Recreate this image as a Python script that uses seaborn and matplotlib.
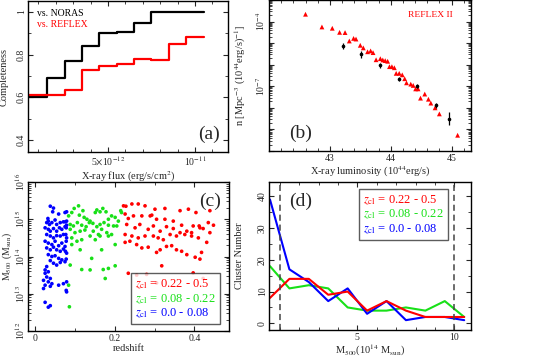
import numpy as np
import pandas as pd
import matplotlib
matplotlib.use("Agg")
import matplotlib.pyplot as plt
from matplotlib.ticker import MultipleLocator, FixedLocator, FixedFormatter, LogLocator, NullFormatter
from matplotlib.lines import Line2D
import seaborn as sns

# ---- (a) completeness vs X-ray flux (flux in 1e-12 erg/s/cm^2) ----
flux_edges = [0.0, 1.5, 2.5, 3.5, 4.5, 5.5, 6.5, 7.5, 8.5, 9.5, 10.5]
compl_noras = [0.603, 0.689, 0.771, 0.838, 0.900, 0.906, 0.945, 1.0, 1.0, 1.0]
compl_reflex = [0.611, 0.611, 0.635, 0.729, 0.746, 0.754, 0.780, 0.776, 0.851, 0.881]

# ---- (b) luminosity function ----
reflex_logL = [42.60, 42.87, 43.04, 43.16, 43.25, 43.32, 43.39, 43.43, 43.50, 43.55, 43.62, 43.67,
               43.71, 43.76, 43.83, 43.87, 43.91, 43.95, 43.98, 44.02, 44.06, 44.09, 44.14, 44.19,
               44.23, 44.26, 44.33, 44.37, 44.41, 44.45, 44.49, 44.56, 44.62, 44.66, 44.73, 44.80, 45.10]
reflex_logn = [-3.66, -4.25, -4.31, -4.50, -4.51, -4.90, -4.78, -4.81, -5.10, -5.22, -5.40, -5.36,
               -5.44, -5.77, -5.72, -5.78, -5.81, -5.84, -6.09, -6.09, -6.14, -6.40, -6.40, -6.47,
               -6.65, -6.84, -6.90, -6.96, -7.12, -7.12, -7.55, -7.36, -7.60, -7.78, -8.00, -8.28, -9.27]
ours_logL = [43.22, 43.51, 43.82, 44.13, 44.43, 44.74, 44.96]
ours_logn = [-5.13, -5.52, -6.02, -6.65, -6.99, -7.89, -8.51]
ours_err = [0.15, 0.15, 0.12, 0.10, 0.10, 0.12, 0.30]

# ---- (c) M500 vs redshift ----
z_low = [0.038, 0.046, 0.044, 0.059, 0.075, 0.079, 0.032, 0.033, 0.029, 0.036, 0.042, 0.050, 0.054,
         0.063, 0.071, 0.079, 0.076, 0.025, 0.033, 0.038, 0.046, 0.054, 0.061, 0.067, 0.075, 0.078,
         0.079, 0.029, 0.038, 0.046, 0.054, 0.063, 0.071, 0.079, 0.077, 0.025, 0.033, 0.042, 0.050,
         0.059, 0.067, 0.075, 0.078, 0.029, 0.038, 0.046, 0.054, 0.063, 0.071, 0.079, 0.076, 0.033,
         0.042, 0.050, 0.059, 0.067, 0.075, 0.078, 0.038, 0.046, 0.054, 0.063, 0.029, 0.025, 0.033,
         0.025, 0.029, 0.038, 0.021, 0.033, 0.042, 0.025, 0.038, 0.021, 0.059, 0.071, 0.079, 0.078,
         0.025, 0.033, 0.038, 0.079]
logm_low = [15.35, 15.30, 15.20, 15.14, 15.18, 15.20, 15.02, 14.95, 14.91, 14.86, 14.91, 14.98, 14.86,
            14.91, 14.93, 14.95, 14.93, 14.77, 14.73, 14.68, 14.75, 14.68, 14.77, 14.73, 14.80, 14.77,
            14.84, 14.59, 14.55, 14.50, 14.56, 14.55, 14.59, 14.50, 14.59, 14.41, 14.36, 14.32, 14.41,
            14.29, 14.36, 14.27, 14.41, 14.23, 14.18, 14.25, 14.18, 14.14, 14.20, 14.09, 14.14, 14.05,
            14.00, 14.02, 13.95, 13.91, 13.86, 13.93, 13.89, 13.82, 13.77, 13.84, 13.73, 13.64, 13.59,
            13.55, 13.45, 13.41, 13.36, 13.32, 13.27, 13.23, 13.20, 13.14, 13.23, 13.27, 13.32, 13.09,
            12.77, 12.64, 12.68, 13.05]
z_mid = [0.084, 0.092, 0.098, 0.109, 0.120, 0.111, 0.123, 0.130, 0.138, 0.151, 0.155, 0.163, 0.170,
         0.178, 0.184, 0.192, 0.201, 0.209, 0.215, 0.217, 0.088, 0.096, 0.106, 0.117, 0.128, 0.136,
         0.145, 0.155, 0.163, 0.173, 0.184, 0.197, 0.088, 0.100, 0.113, 0.125, 0.146, 0.159, 0.167,
         0.180, 0.192, 0.205, 0.092, 0.105, 0.117, 0.138, 0.151, 0.163, 0.184, 0.092, 0.113, 0.142,
         0.167, 0.201, 0.088, 0.117, 0.138, 0.171, 0.176, 0.184, 0.201, 0.084, 0.086]
logm_mid = [15.09, 15.18, 15.29, 15.36, 15.23, 15.11, 15.05, 15.00, 14.95, 15.18, 15.25, 15.20, 15.29,
            15.20, 15.00, 15.09, 15.05, 14.95, 15.23, 15.18, 14.86, 14.82, 14.91, 14.84, 14.80, 14.91,
            14.89, 14.80, 14.86, 14.91, 14.84, 14.82, 14.73, 14.64, 14.68, 14.71, 14.68, 14.59, 14.73,
            14.64, 14.59, 14.82, 14.50, 14.41, 14.45, 14.55, 14.45, 14.55, 14.55, 14.32, 14.18, 13.95,
            14.18, 14.32, 13.77, 13.65, 13.64, 13.65, 13.41, 13.68, 13.75, 13.23, 12.65]
z_high = [0.222, 0.228, 0.243, 0.259, 0.276, 0.301, 0.326, 0.364, 0.385, 0.404, 0.439, 0.226, 0.234,
          0.247, 0.268, 0.289, 0.293, 0.305, 0.326, 0.347, 0.368, 0.397, 0.412, 0.435, 0.448, 0.230,
          0.251, 0.263, 0.284, 0.297, 0.314, 0.330, 0.347, 0.364, 0.381, 0.393, 0.414, 0.422, 0.439,
          0.226, 0.243, 0.259, 0.276, 0.297, 0.309, 0.322, 0.339, 0.355, 0.376, 0.393, 0.410, 0.431,
          0.226, 0.238, 0.255, 0.268, 0.284, 0.305, 0.314, 0.330, 0.343, 0.355, 0.368, 0.381, 0.402,
          0.418, 0.414, 0.318, 0.234, 0.255, 0.280, 0.305, 0.397, 0.422]
logm_high = [15.36, 15.35, 15.41, 15.41, 15.36, 15.27, 15.29, 15.23, 15.27, 15.18, 15.23, 15.14, 15.02,
             15.09, 15.09, 15.09, 15.11, 15.00, 15.00, 14.95, 14.84, 14.82, 14.82, 14.91, 14.84, 14.86,
             14.77, 14.86, 14.73, 14.82, 14.68, 14.80, 14.75, 14.64, 14.68, 14.64, 14.77, 14.75, 14.64,
             14.59, 14.55, 14.50, 14.55, 14.55, 14.50, 14.45, 14.59, 14.55, 14.59, 14.55, 14.50, 14.38,
             14.38, 14.41, 14.32, 14.23, 14.25, 14.11, 14.18, 14.27, 14.29, 14.18, 14.14, 14.05, 13.98,
             14.11, 13.93, 13.75, 13.55, 13.50, 13.52, 13.29, 13.56, 13.41]

# ---- (d) mass function per redshift bin ----
mass_bins = [0.5, 1.5, 2.5, 3.5, 4.5, 5.5, 6.5, 7.5, 8.5, 9.5, 10.5]
n_high = [8, 14, 14, 9, 10, 4, 7, 4, 2, 2, 2]
n_mid = [18, 11, 12, 11, 5, 4, 4, 5, 4, 7, 2]
n_low = [39, 17, 13, 7, 11, 3, 7, 1, 2, 2, 1]

labels_z = [r"$z_{\rm cl}$ = 0.22 - 0.5", r"$z_{\rm cl}$ = 0.08 - 0.22", r"$z_{\rm cl}$ = 0.0 - 0.08"]
RED, GREEN, BLUE = "#ff0000", "#18e018", "#0000ff"

sns.set_style("ticks")
plt.rcParams["font.family"] = ["Liberation Serif", "DejaVu Serif"]
plt.rcParams["mathtext.fontset"] = "stix"
plt.rcParams["xtick.direction"] = "in"
plt.rcParams["ytick.direction"] = "in"
plt.rcParams["xtick.top"] = True
plt.rcParams["ytick.right"] = True
plt.rcParams["axes.linewidth"] = 1.0
plt.rcParams["xtick.major.size"] = 3.5
plt.rcParams["ytick.major.size"] = 3.5
plt.rcParams["xtick.minor.size"] = 2
plt.rcParams["ytick.minor.size"] = 2

TS, LS = 7, 7.5
W, H = 544, 358
fig = plt.figure(figsize=(W / 100, H / 100), dpi=100)


def box(l, t, r, b):
    return fig.add_axes([l / W, 1 - b / H, (r - l) / W, (b - t) / H])


def style(ax, ylab_x, ypad=1.5):
    ax.tick_params(which="both", labelsize=TS, pad=2)
    ax.tick_params(axis="y", which="both", labelrotation=90, pad=ypad)
    for lab in ax.get_yticklabels():
        lab.set_va("center")
    for s in ax.spines.values():
        s.set_color("black")
    ax.yaxis.set_label_coords(ylab_x, 0.5)


# (a)
ax_a = box(28, 1, 228, 152)
df_n = pd.DataFrame({"flux": flux_edges, "c": compl_noras + [compl_noras[-1]]})
df_r = pd.DataFrame({"flux": flux_edges, "c": compl_reflex + [compl_reflex[-1]]})
sns.lineplot(data=df_n, x="flux", y="c", ax=ax_a, color="black", lw=1.6, drawstyle="steps-post")
sns.lineplot(data=df_r, x="flux", y="c", ax=ax_a, color=RED, lw=1.6, drawstyle="steps-post")
ax_a.set_xlim(0.4, 11.9)
ax_a.set_ylim(0.345, 1.05)
ax_a.xaxis.set_major_locator(FixedLocator([5, 10]))
ax_a.xaxis.set_major_formatter(FixedFormatter([r"5$\times$10$^{-12}$", r"10$^{-11}$"]))
ax_a.xaxis.set_minor_locator(MultipleLocator(1))
ax_a.yaxis.set_major_locator(FixedLocator([0.4, 0.6, 0.8, 1.0]))
ax_a.yaxis.set_major_formatter(FixedFormatter(["0.4", "0.6", "0.8", "1"]))
ax_a.yaxis.set_minor_locator(MultipleLocator(0.1))
ax_a.set_xlabel(r"X-ray flux (erg/s/cm$^2$)", fontsize=LS, labelpad=1)
ax_a.set_ylabel("Completeness", fontsize=LS)
ax_a.text(0.045, 0.90, "vs. NORAS", transform=ax_a.transAxes, fontsize=7, color="black")
ax_a.text(0.045, 0.83, "vs. REFLEX", transform=ax_a.transAxes, fontsize=7, color=RED)
ax_a.text(0.96, 0.06, "(a)", transform=ax_a.transAxes, fontsize=14, ha="right", va="bottom")
style(ax_a, -0.095)

# (b)
ax_b = box(269, 0, 471, 151)
df_b = pd.DataFrame({"L": reflex_logL, "n": 10 ** np.array(reflex_logn)})
sns.scatterplot(data=df_b, x="L", y="n", ax=ax_b, marker="^", color=RED, s=12, edgecolor="none")
on = np.array(ours_logn)
oe = np.array(ours_err)
ax_b.errorbar(ours_logL, 10 ** on, yerr=[10 ** on - 10 ** (on - oe), 10 ** (on + oe) - 10 ** on],
              fmt="o", ms=1.6, color="black", lw=0.9, capsize=0)
ax_b.set_yscale("log")
ax_b.set_xlim(42.0, 45.32)
ax_b.set_ylim(1e-10, 1e-3)
ax_b.xaxis.set_major_locator(FixedLocator([43, 44, 45]))
ax_b.xaxis.set_minor_locator(MultipleLocator(0.2))
decades = [10.0 ** k for k in range(-10, -2)]
ax_b.yaxis.set_major_locator(FixedLocator(decades))
ax_b.yaxis.set_major_formatter(FixedFormatter(
    [r"10$^{-4}$" if k == -4 else (r"10$^{-7}$" if k == -7 else "") for k in range(-10, -2)]))
ax_b.yaxis.set_minor_locator(LogLocator(base=10, subs=np.arange(2, 10), numticks=20))
ax_b.yaxis.set_minor_formatter(NullFormatter())
ax_b.set_xlabel(r"X-ray luminosity (10$^{44}$erg/s)", fontsize=LS, labelpad=1)
ax_b.set_ylabel(r"n [Mpc$^{-3}$ (10$^{44}$erg/s)$^{-1}$]", fontsize=LS)
ax_b.text(0.91, 0.89, "REFLEX II", transform=ax_b.transAxes, fontsize=6.8, color=RED, ha="right")
ax_b.text(0.1, 0.06, "(b)", transform=ax_b.transAxes, fontsize=14, va="bottom")
style(ax_b, -0.105)

# (c)
ax_c = box(28, 182, 229, 331)
df_c = pd.concat([
    pd.DataFrame({"z": z_high, "M": 10 ** np.array(logm_high), "bin": "high"}),
    pd.DataFrame({"z": z_mid, "M": 10 ** np.array(logm_mid), "bin": "mid"}),
    pd.DataFrame({"z": z_low, "M": 10 ** np.array(logm_low), "bin": "low"}),
])
sns.scatterplot(data=df_c, x="z", y="M", hue="bin", palette={"high": RED, "mid": GREEN, "low": BLUE},
                ax=ax_c, s=7, edgecolor="none", legend=False)
ax_c.set_yscale("log")
ax_c.set_xlim(-0.018, 0.487)
ax_c.set_ylim(1e12, 1e16)
ax_c.xaxis.set_major_locator(FixedLocator([0, 0.2, 0.4]))
ax_c.xaxis.set_major_formatter(FixedFormatter(["0", "0.2", "0.4"]))
ax_c.xaxis.set_minor_locator(MultipleLocator(0.1))
ax_c.yaxis.set_major_locator(FixedLocator([1e12, 1e13, 1e14, 1e15, 1e16]))
ax_c.yaxis.set_major_formatter(FixedFormatter([r"10$^{12}$", r"10$^{13}$", r"10$^{14}$", r"10$^{15}$", r"10$^{16}$"]))
ax_c.yaxis.set_minor_locator(LogLocator(base=10, subs=np.arange(2, 10), numticks=20))
ax_c.yaxis.set_minor_formatter(NullFormatter())
ax_c.set_xlabel("redshift", fontsize=LS, labelpad=1)
ax_c.set_ylabel(r"M$_{500}$ (M$_{\rm sun}$)", fontsize=7)
ax_c.text(0.96, 0.93, "(c)", transform=ax_c.transAxes, fontsize=14, ha="right", va="top")
hnd = [Line2D([], [], linestyle="none") for _ in range(3)]
leg = ax_c.legend(hnd, labels_z, loc="lower right", bbox_to_anchor=(0.955, 0.045), fontsize=9,
                  labelcolor=[RED, GREEN, BLUE], handlelength=0, handletextpad=0, fancybox=False,
                  frameon=True, borderpad=0.35, labelspacing=0.05, borderaxespad=0)
leg.get_frame().set_edgecolor("#333333")
leg.get_frame().set_linewidth(1.0)
style(ax_c, -0.07, ypad=0.5)

# (d)
ax_d = box(269, 182, 471, 330)
df_d = pd.DataFrame({"m": mass_bins * 3, "n": n_high + n_mid + n_low,
                     "bin": ["high"] * 11 + ["mid"] * 11 + ["low"] * 11})
sns.lineplot(data=df_d, x="m", y="n", hue="bin", hue_order=["mid", "low", "high"],
             palette={"high": RED, "mid": GREEN, "low": BLUE}, ax=ax_d, lw=1.5, legend=False)
ax_d.axvline(1, color="#444444", ls="--", lw=1.1, dashes=(4, 2.5))
ax_d.axvline(10, color="#444444", ls="--", lw=1.1, dashes=(4, 2.5))
ax_d.set_xlim(0.45, 10.85)
ax_d.set_ylim(-2.1, 44.5)
ax_d.xaxis.set_major_locator(FixedLocator([5, 10]))
ax_d.xaxis.set_minor_locator(MultipleLocator(1))
ax_d.yaxis.set_major_locator(MultipleLocator(10))
ax_d.yaxis.set_minor_locator(MultipleLocator(5))
ax_d.set_xlabel(r"M$_{500}$(10$^{14}$ M$_{\rm sun}$)", fontsize=LS, labelpad=1)
ax_d.set_ylabel("Cluster Number", fontsize=LS)
ax_d.text(0.1, 0.93, "(d)", transform=ax_d.transAxes, fontsize=14, va="top")
leg = ax_d.legend(hnd, labels_z, loc="upper right", bbox_to_anchor=(0.886, 0.951), fontsize=9,
                  labelcolor=[RED, GREEN, BLUE], handlelength=0, handletextpad=0, fancybox=False,
                  frameon=True, borderpad=0.35, labelspacing=0.05, borderaxespad=0)
leg.get_frame().set_edgecolor("#333333")
leg.get_frame().set_linewidth(1.0)
style(ax_d, -0.125)

fig.savefig("out.png", dpi=100)
